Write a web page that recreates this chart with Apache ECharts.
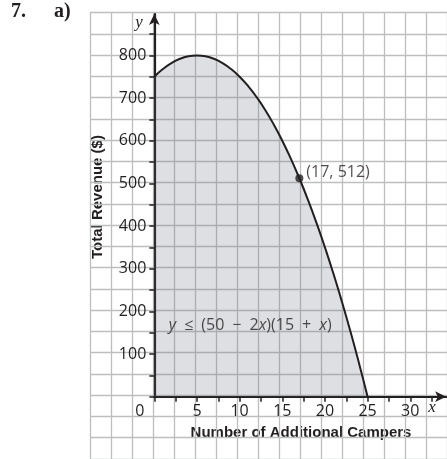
<!DOCTYPE html>
<html>
<head>
<meta charset="utf-8">
<script src="https://cdn.jsdelivr.net/npm/echarts@6/dist/echarts.min.js"></script>
<style>
  html, body { margin: 0; padding: 0; background: #fff; }
  #chart { width: 447px; height: 459px; }
</style>
</head>
<body>
<div id="chart"></div>
<script>
// campers added (x) and revenue (y)
var campers = [0, 1, 2, 3, 4, 5, 6, 7, 8, 9, 10, 11, 12, 13, 14, 15, 16, 17, 18, 19, 20, 21, 22, 23, 24, 25];
var revenue = [750, 768, 782, 792, 798, 800, 798, 792, 782, 768, 750, 728, 702, 672, 638, 600, 558, 512, 462, 408, 350, 288, 222, 152, 78, 0];
var markedPoint = [17, 512];
var formulaPos = [1.7, 168];

var xTicks = [0, 2.5, 5, 7.5, 10, 12.5, 15, 17.5, 20, 22.5, 25, 27.5, 30, 32.5];
var xLabels = [0, 5, 10, 15, 20, 25, 30];
var yTicks = [0, 50, 100, 150, 200, 250, 300, 350, 400, 450, 500, 550, 600, 650, 700, 750, 800, 850];
var yLabels = [100, 200, 300, 400, 500, 600, 700, 800];

var ink = '#231f20';
var gridColor = '#bdbec0';
var font = 'Open Sans';

var curve = [];
for (var i = 0; i < campers.length; i++) curve.push([campers[i], revenue[i]]);

var chart = echarts.init(document.getElementById('chart'), null, { renderer: 'canvas' });

var option = {
    animation: false,
    grid: [
        // background graph paper
        { left: 90, top: 12.7, right: -5.7, bottom: -1.7 },
        // first quadrant with the axes
        { left: 154.3, top: 14, right: 0.9, bottom: 62.3 }
    ],
    xAxis: [
        {
            gridIndex: 0, type: 'value', min: -7.5, max: 35, interval: 2.5,
            axisLine: { show: false }, axisTick: { show: false }, axisLabel: { show: false },
            splitLine: { lineStyle: { color: gridColor, width: 1.3 } }
        },
        {
            gridIndex: 1, type: 'value', min: 0, max: 34.2,
            axisLine: { show: true, symbol: ['none', 'arrow'], symbolSize: [8, 11], lineStyle: { color: ink, width: 2.2 } },
            axisTick: { show: true, customValues: xTicks, length: 5, inside: false, lineStyle: { color: ink, width: 1.5 } },
            axisLabel: {
                customValues: xLabels, margin: 7, color: ink, fontFamily: font, fontSize: 16,
                formatter: function (v) { return v === 0 ? '{z|0}' : String(v); },
                rich: { z: { padding: [0, 29, 0, 0], color: ink, fontFamily: font, fontSize: 16 } }
            },
            splitLine: { show: false }
        }
    ],
    yAxis: [
        {
            gridIndex: 0, type: 'value', min: -150, max: 900, interval: 50,
            axisLine: { show: false }, axisTick: { show: false }, axisLabel: { show: false },
            splitLine: { lineStyle: { color: gridColor, width: 1.3 } }
        },
        {
            gridIndex: 1, type: 'value', min: 0, max: 897,
            axisLine: { show: true, symbol: ['none', 'arrow'], symbolSize: [8, 11], lineStyle: { color: ink, width: 2.2 } },
            axisTick: { show: true, customValues: yTicks, length: 5, lineStyle: { color: ink, width: 1.5 } },
            axisLabel: { customValues: yLabels, margin: 8, color: ink, fontFamily: font, fontSize: 16 },
            splitLine: { show: false }
        }
    ],
    graphic: [
        { type: 'text', left: 11, top: 2, style: { text: '7.', font: 'bold 20px "Liberation Serif"', fill: ink } },
        { type: 'text', left: 54, top: 2, style: { text: 'a)', font: 'bold 20px "Liberation Serif"', fill: ink } },
        { type: 'text', x: 139, y: 23, style: { text: 'y', font: 'italic 17px "Liberation Serif"', fill: ink, align: 'center', verticalAlign: 'middle' } },
        { type: 'text', x: 432, y: 408, style: { text: 'x', font: 'italic 17px "Liberation Serif"', fill: ink, align: 'center', verticalAlign: 'middle' } },
        { type: 'text', x: 301, y: 433, style: { text: 'Number of Additional Campers', font: 'bold 15px "Liberation Sans"', fill: ink, align: 'center', verticalAlign: 'middle' } },
        { type: 'text', x: 98, y: 197, rotation: Math.PI / 2, style: { text: 'Total Revenue ($)', font: 'bold 15px "Liberation Sans"', fill: ink, align: 'center', verticalAlign: 'middle' } }
    ],
    series: [
        {
            type: 'line', xAxisIndex: 1, yAxisIndex: 1,
            data: curve, smooth: true, symbol: 'none',
            lineStyle: { color: ink, width: 2 },
            areaStyle: { color: 'rgba(100,108,120,0.31)', origin: 'start' },
            z: 3
        },
        {
            type: 'scatter', xAxisIndex: 1, yAxisIndex: 1,
            data: [markedPoint], symbolSize: 8,
            itemStyle: { color: ink },
            label: {
                show: true, position: 'right', distance: 3, offset: [0, -6],
                formatter: function (p) { return '(' + p.value[0] + ', ' + p.value[1] + ')'; },
                color: ink, fontFamily: font, fontSize: 16
            },
            z: 4
        },
        {
            type: 'scatter', xAxisIndex: 1, yAxisIndex: 1,
            data: [formulaPos], symbolSize: 0,
            label: {
                show: true, position: 'right', distance: 0,
                formatter: '{i|y}\u2002\u2264\u2002(50\u2002\u2212\u20022{i|x})(15\u2002+\u2002{i|x})',
                color: ink, fontFamily: font, fontSize: 16,
                rich: { i: { fontStyle: 'italic', color: ink, fontFamily: font, fontSize: 16 } }
            },
            z: 4
        }
    ]
};

chart.setOption(option);
</script>
</body>
</html>
